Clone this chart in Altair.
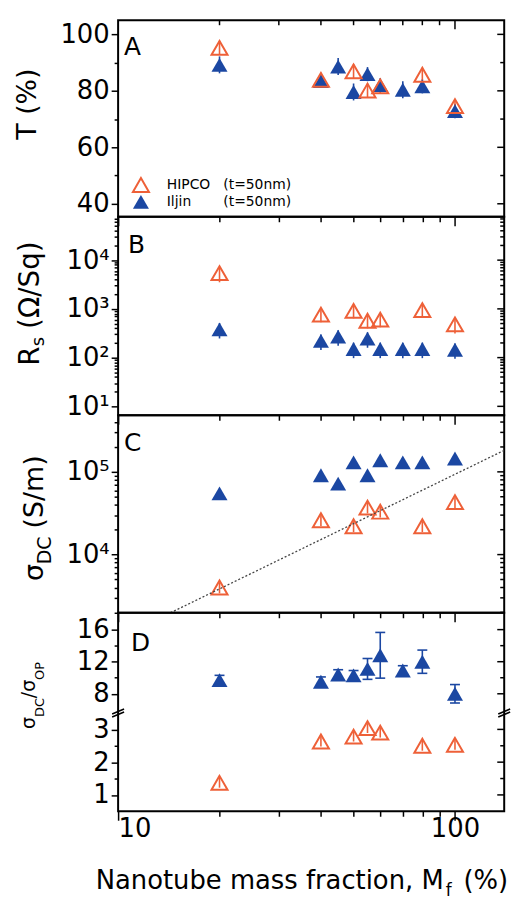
import altair as alt
import pandas as pd

# ---------------- data ----------------
hipco_x = [20, 40, 50, 55, 60, 80, 100]
iljin_x = [20, 40, 45, 50, 55, 60, 70, 80, 100]

# Panel A: transmittance T (%)
T_hipco = [95.2, 83.9, 86.9, 80.1, 81.6, 85.7, 74.6]
T_hipco_err = [2.5, 2.5, 2.5, 2.5, 2.5, 2.5, 2.5]
T_iljin = [89.2, 83.5, 88.6, 79.6, 85.9, 82.0, 80.4, 81.6, 72.8]
T_iljin_err = [3.0, 2.5, 3.0, 3.0, 2.5, 2.5, 3.0, 2.5, 2.5]

# Panel B: sheet resistance (Ohm/Sq), relative errors
Rs_hipco = [5400, 760, 910, 570, 600, 940, 480]
Rs_hipco_rel = [0.35, 0.3, 0.3, 0.3, 0.3, 0.3, 0.35]
Rs_iljin = [380, 220, 270, 150, 245, 150, 150, 150, 145]
Rs_iljin_rel = [0.35, 0.35, 0.35, 0.35, 0.35, 0.35, 0.35, 0.35, 0.35]

# Panel C: DC conductivity (S/m), relative errors
S_hipco = [4000, 26000, 22000, 37000, 33000, 22000, 43000]
S_hipco_rel = [0.15, 0.15, 0.15, 0.15, 0.15, 0.15, 0.15]
S_iljin = [55000, 91000, 72000, 130000, 91000, 138000, 130000, 130000, 145000]
S_iljin_rel = [0.12, 0.12, 0.12, 0.12, 0.12, 0.12, 0.12, 0.12, 0.12]

# dotted fit line in panel C
fit_x = [14.3, 140]
fit_y = [1980, 182000]

# Panel D: sigma_DC / sigma_OP
R_hipco = [1.37, 2.63, 2.78, 3.04, 2.90, 2.50, 2.53]
R_hipco_err = [0.15, 0.15, 0.15, 0.15, 0.15, 0.15, 0.15]
R_iljin = [9.7, 9.5, 10.4, 10.3, 11.1, 12.8, 10.9, 12.0, 8.0]
R_iljin_err = [0.6, 0.6, 0.6, 0.6, 1.3, 2.85, 0.6, 1.45, 1.15]

# tick values / labels
x_ticks = [10, 20, 30, 40, 50, 60, 70, 80, 90, 100]
x_top_minor = [20, 30, 40, 50, 60, 70, 80, 90]
x_top_major = [100]
A_major = [40, 60, 80, 100]
A_minor = [50, 70, 90]
B_major = [10, 100, 1000, 10000]
B_minor = [20, 30, 40, 50, 60, 70, 80, 90, 200, 300, 400, 500, 600, 700, 800, 900,
           2000, 3000, 4000, 5000, 6000, 7000, 8000, 9000, 20000, 30000, 40000, 50000, 60000, 70000]
C_major = [10000, 100000]
C_minor = [2000, 3000, 4000, 5000, 6000, 7000, 8000, 9000,
           20000, 30000, 40000, 50000, 60000, 70000, 80000, 90000, 200000, 300000, 400000]
D_major = [1, 2, 3, 8, 12, 16]
D_minor = [1.5, 2.5, 10, 14]

series_names = ["HIPCO", "Iljin"]
legend_note = "(t=50nm)"
panel_letters = ["A", "B", "C", "D"]

# ---------------- style ----------------
HIP = "#EE6038"
ILJ = "#1B47A2"
FONT = "DejaVu Sans"
W = 389
HS = [198, 200, 199, 200]
MSIZE = 260

xsc = alt.Scale(type="log", domain=[10, 140], nice=False)


def xaxis(labels):
    return alt.Axis(
        values=x_ticks, title=None, domain=False, grid=False, labels=labels,
        labelExpr="datum.value == 10 ? '10' : (datum.value == 100 ? '100' : '')",
        tickSize={"condition": {"test": "datum.value == 10 || datum.value == 100", "value": 9}, "value": 5},
        labelPadding=-5, labelFontSize=26, labelFont=FONT, labelColor="black",
        tickColor="black", tickWidth=1.5,
    )


def yaxis(major, minor, expr):
    test = "indexof([" + ",".join(str(v) for v in major) + "], datum.value) >= 0"
    return alt.Axis(
        values=sorted(major + minor), title=None, domain=False, grid=False,
        labelExpr=expr,
        tickSize={"condition": {"test": test, "value": 7}, "value": 4},
        labelPadding=2, labelFontSize=26, labelFont=FONT, labelColor="black",
        tickColor="black", tickWidth=1.5,
    )


def txt(s, x, y, size, angle=0, align="left", baseline="alphabetic", color="black"):
    return alt.Chart(pd.DataFrame({"t": [s]})).mark_text(
        font=FONT, fontSize=size, angle=angle, align=align, baseline=baseline, color=color
    ).encode(text="t:N", x=alt.value(x), y=alt.value(y))


def panel(h, ysc, yax, major, minor, hip, hip_lo, hip_hi, ilj, ilj_lo, ilj_hi,
          letter, letter_pos, show_x, caps=False, extra=()):
    X = alt.X("x:Q", scale=xsc, axis=xaxis(show_x))

    def Y(f):
        return alt.Y(f + ":Q", scale=ysc, axis=yax)

    hdf = pd.DataFrame({"x": hipco_x, "y": hip, "lo": hip_lo, "hi": hip_hi})
    idf = pd.DataFrame({"x": iljin_x, "y": ilj, "lo": ilj_lo, "hi": ilj_hi})
    layers = []
    layers.append(alt.Chart(idf).mark_rule(color=ILJ, strokeWidth=1.6).encode(x=X, y=Y("lo"), y2="hi:Q"))
    layers.append(alt.Chart(hdf).mark_rule(color=HIP, strokeWidth=1.6).encode(x=X, y=Y("lo"), y2="hi:Q"))
    if caps:
        for fld in ["lo", "hi"]:
            layers.append(alt.Chart(idf).mark_rule(color=ILJ, strokeWidth=1.6, xOffset=-5, x2Offset=5)
                          .encode(x=X, x2="x:Q", y=Y(fld)))
    layers.append(alt.Chart(idf).mark_point(shape="triangle-up", filled=True, color=ILJ, opacity=1, size=MSIZE)
                  .encode(x=X, y=Y("y")))
    layers.append(alt.Chart(hdf).mark_point(shape="triangle-up", filled=False, color=HIP, strokeWidth=2,
                                            opacity=1, size=MSIZE).encode(x=X, y=Y("y")))
    # inward ticks on right side
    layers.append(alt.Chart(pd.DataFrame({"v": major})).mark_rule(color="black", strokeWidth=1.5)
                  .encode(y=Y("v"), x=alt.value(W - 7), x2=alt.value(W)))
    layers.append(alt.Chart(pd.DataFrame({"v": minor})).mark_rule(color="black", strokeWidth=1.5)
                  .encode(y=Y("v"), x=alt.value(W - 4), x2=alt.value(W)))
    layers.append(txt(letter, letter_pos[0], letter_pos[1], 25, baseline="middle"))
    layers.extend(extra)
    return alt.layer(*layers).properties(width=W, height=h)


# ---- panel A ----
A_sc = alt.Scale(domain=[35.4, 105], nice=False, zero=False)
A_ax = yaxis(A_major, A_minor, "datum.value % 20 == 0 ? datum.value : ''")
A_extra = [
    alt.Chart(pd.DataFrame({"v": x_top_minor})).mark_rule(color="black", strokeWidth=1.5)
    .encode(x=alt.X("v:Q", scale=xsc, axis=xaxis(False)), y=alt.value(0), y2=alt.value(5)),
    alt.Chart(pd.DataFrame({"v": x_top_major})).mark_rule(color="black", strokeWidth=1.5)
    .encode(x=alt.X("v:Q", scale=xsc, axis=xaxis(False)), y=alt.value(0), y2=alt.value(9)),
    # legend
    alt.Chart(pd.DataFrame({"s": [series_names[0]]})).mark_point(
        shape="triangle-up", filled=False, color=HIP, strokeWidth=2, opacity=1, size=MSIZE)
    .encode(x=alt.value(23), y=alt.value(166)),
    alt.Chart(pd.DataFrame({"s": [series_names[1]]})).mark_point(
        shape="triangle-up", filled=True, color=ILJ, opacity=1, size=MSIZE)
    .encode(x=alt.value(23), y=alt.value(183)),
    txt(series_names[0], 49, 166, 14, baseline="middle"),
    txt(legend_note, 106, 166, 14, baseline="middle"),
    txt(series_names[1], 49, 183, 14, baseline="middle"),
    txt(legend_note, 106, 183, 14, baseline="middle"),
    # y title
    txt("T (%)", -83, 84.5, 27, angle=270, align="center"),
    # invisible frame anchor (top-left of page)
    alt.Chart(pd.DataFrame({"a": [0]})).mark_square(size=1, opacity=0)
    .encode(x=alt.value(-117), y=alt.value(-15)),
]
pA = panel(HS[0], A_sc, A_ax, A_major, A_minor,
           T_hipco, [v - e for v, e in zip(T_hipco, T_hipco_err)], [v + e for v, e in zip(T_hipco, T_hipco_err)],
           T_iljin, [v - e for v, e in zip(T_iljin, T_iljin_err)], [v + e for v, e in zip(T_iljin, T_iljin_err)],
           panel_letters[0], (6, 27.5), False, extra=A_extra)

LOGEXPR = ("datum.value == 10 ? '10\u00b9' : datum.value == 100 ? '10\u00b2' : "
           "datum.value == 1000 ? '10\u00b3' : datum.value == 10000 ? '10\u2074' : "
           "datum.value == 100000 ? '10\u2075' : ''")

# ---- panel B ----
B_sc = alt.Scale(type="log", domain=[6.56, 77600], nice=False)
B_ax = yaxis(B_major, B_minor, LOGEXPR)
B_extra = [
    txt("R", -80, 150, 28, angle=270),
    txt("s", -75, 130.5, 18, angle=270),
    txt("(\u03a9/Sq)", -80, 113, 28, angle=270),
]
pB = panel(HS[1], B_sc, B_ax, B_major, B_minor,
           Rs_hipco, [v * (1 - e) for v, e in zip(Rs_hipco, Rs_hipco_rel)], [v * (1 + e) for v, e in zip(Rs_hipco, Rs_hipco_rel)],
           Rs_iljin, [v * (1 - e) for v, e in zip(Rs_iljin, Rs_iljin_rel)], [v * (1 + e) for v, e in zip(Rs_iljin, Rs_iljin_rel)],
           panel_letters[1], (10, 28.5), False, extra=B_extra)

# ---- panel C ----
C_sc = alt.Scale(type="log", domain=[1980, 483000], nice=False)
C_ax = yaxis(C_major, C_minor, LOGEXPR)
C_extra = [
    alt.Chart(pd.DataFrame({"x": fit_x, "y": fit_y})).mark_line(
        color="#444444", strokeDash=[2, 2], strokeWidth=1.3, clip=True)
    .encode(x=alt.X("x:Q", scale=xsc, axis=xaxis(False)), y=alt.Y("y:Q", scale=C_sc, axis=C_ax)),
    txt("\u03c3", -76, 167, 27, angle=270),
    txt("DC", -68, 150, 19, angle=270),
    txt("(S/m)", -76, 114, 27, angle=270),
]
pC = panel(HS[2], C_sc, C_ax, C_major, C_minor,
           S_hipco, [v * (1 - e) for v, e in zip(S_hipco, S_hipco_rel)], [v * (1 + e) for v, e in zip(S_hipco, S_hipco_rel)],
           S_iljin, [v * (1 - e) for v, e in zip(S_iljin, S_iljin_rel)], [v * (1 + e) for v, e in zip(S_iljin, S_iljin_rel)],
           panel_letters[2], (6, 28), False, extra=C_extra)

# ---- panel D (broken axis) ----
D_sc = alt.Scale(domain=[0.5, 3.5, 5.6, 18.1], range=[200, 101, 101, 0], nice=False, zero=False)
D_ax = yaxis(D_major, D_minor, "indexof([1,2,3,8,12,16], datum.value) >= 0 ? '' + datum.value : ''")


def brk(x0):
    return [
        alt.Chart(pd.DataFrame({"a": [0]})).mark_rule(color="black", strokeWidth=1.6)
        .encode(x=alt.value(x0 - 6), x2=alt.value(x0 + 6), y=alt.value(102), y2=alt.value(97)),
        alt.Chart(pd.DataFrame({"a": [0]})).mark_rule(color="black", strokeWidth=1.6)
        .encode(x=alt.value(x0 - 6), x2=alt.value(x0 + 6), y=alt.value(105), y2=alt.value(100)),
    ]


D_extra = brk(0) + brk(W) + [
    txt("\u03c3", -83.5, 117, 19, angle=270),
    txt("DC", -74.5, 105, 13, angle=270),
    txt("/", -83.5, 86, 19, angle=270),
    txt("\u03c3", -83.5, 79.6, 19, angle=270),
    txt("OP", -74.5, 67.6, 13, angle=270),
    txt("Nanotube mass fraction, M", 328, 278, 26, align="right"),
    txt("f", 330, 285, 17),
    txt("(%)", 348, 278, 26),
    alt.Chart(pd.DataFrame({"a": [0]})).mark_square(size=1, opacity=0)
    .encode(x=alt.value(414), y=alt.value(287)),
]
pD = panel(HS[3], D_sc, D_ax, D_major, D_minor,
           R_hipco, [v - e for v, e in zip(R_hipco, R_hipco_err)], [v + e for v, e in zip(R_hipco, R_hipco_err)],
           R_iljin, [v - e for v, e in zip(R_iljin, R_iljin_err)], [v + e for v, e in zip(R_iljin, R_iljin_err)],
           panel_letters[3], (13, 31), True, caps=True, extra=D_extra)

chart = alt.vconcat(pA, pB, pC, pD, spacing=0, bounds="flush").properties(
    padding=0, background="white"
).configure_view(stroke="black", strokeWidth=2)

chart.save("out.html", embed_options={"renderer": "svg", "actions": False})
